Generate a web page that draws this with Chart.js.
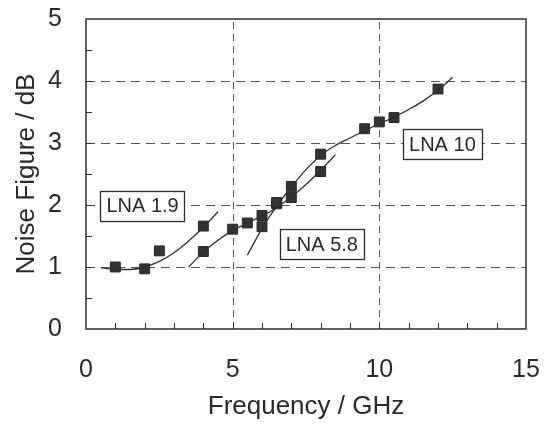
<!DOCTYPE html>
<html>
<head>
<meta charset="utf-8">
<script src="https://cdn.jsdelivr.net/npm/chart.js@4/dist/chart.umd.min.js"></script>
<style>
  html, body { margin: 0; padding: 0; background: #ffffff; }
  #wrap { width: 549px; height: 428px; }
</style>
</head>
<body>
<div id="wrap"><canvas id="c" width="549" height="428"></canvas></div>
<script>
// Measured points
const freq19 = [1, 2, 2.5, 4];
const nf19 = [1.00, 0.97, 1.26, 1.66];
const freq58 = [4, 5, 5.5, 6, 6.5, 7, 8];
const nf58 = [1.25, 1.61, 1.71, 1.83, 2.04, 2.12, 2.54];
const freq10 = [6, 6.5, 7, 8, 9.5, 10, 10.5, 12];
const nf10 = [1.65, 2.02, 2.30, 2.82, 3.23, 3.34, 3.41, 3.87];

// Fitted curves
const fit19x = [0.5, 1, 1.5, 2, 2.5, 3, 3.5, 4, 4.5];
const fit19y = [0.99, 0.96, 0.96, 1.0, 1.09, 1.23, 1.42, 1.64, 1.89];
const fit58x = [3.5, 4, 4.5, 5, 5.5, 6, 6.5, 7, 7.5, 8, 8.5];
const fit58y = [1.00, 1.24, 1.43, 1.59, 1.71, 1.82, 1.96, 2.13, 2.33, 2.56, 2.81];
const fit10x = [5.5, 6, 6.5, 7, 7.5, 8, 8.5, 9, 9.5, 10, 10.5, 11, 11.5, 12, 12.5];
const fit10y = [1.19, 1.62, 1.98, 2.29, 2.57, 2.80, 2.96, 3.08, 3.20, 3.31, 3.42, 3.54, 3.68, 3.85, 4.06];

// Axis ticks
const xTicks = [0, 5, 10, 15];
const yTicks = [0, 1, 2, 3, 4, 5];
const xMinor = [1, 2, 3, 4, 5, 6, 7, 8, 9, 10, 11, 12, 13, 14];
const yMinor = [0.5, 1, 1.5, 2, 2.5, 3, 3.5, 4, 4.5];
const xGrid = [5, 10];
const yGrid = [1, 2, 3, 4];

// Series labels
const seriesLabels = ['LNA 1.9', 'LNA 5.8', 'LNA 10'];
const labelX = [1.93, 8.04, 12.15];
const labelY = [1.99, 1.37, 2.98];

const INK = '#2e2e2e';
const zip = (xs, ys) => xs.map((x, i) => ({x: x, y: ys[i]}));

const curve = (xs, ys, name) => ({
  label: name + ' fit', data: zip(xs, ys), showLine: true, pointRadius: 0,
  borderColor: INK, borderWidth: 1.3, tension: 0.4, cubicInterpolationMode: 'monotone', fill: false
});
const pts = (xs, ys, name) => ({
  label: name, data: zip(xs, ys), showLine: false, pointStyle: 'rect', pointRadius: 7,
  backgroundColor: '#333333', borderColor: '#262626', borderWidth: 1
});

const framePlugin = {
  id: 'frame',
  beforeDatasetsDraw(chart) {
    const {ctx, chartArea: a, scales: {x, y}} = chart;
    ctx.save();
    ctx.strokeStyle = '#555';
    ctx.lineWidth = 1;
    ctx.setLineDash([9, 6]);
    yGrid.forEach(v => {
      const py = Math.round(y.getPixelForValue(v)) + 0.5;
      ctx.beginPath(); ctx.moveTo(a.left, py); ctx.lineTo(a.right, py); ctx.stroke();
    });
    ctx.setLineDash([7, 5]);
    xGrid.forEach(v => {
      const px = Math.round(x.getPixelForValue(v)) + 0.5;
      ctx.beginPath(); ctx.moveTo(px, a.bottom); ctx.lineTo(px, a.top); ctx.stroke();
    });
    ctx.setLineDash([]);
    ctx.strokeStyle = INK;
    ctx.lineWidth = 1;
    xMinor.forEach(v => {
      const px = Math.round(x.getPixelForValue(v)) + 0.5;
      ctx.beginPath(); ctx.moveTo(px, a.bottom); ctx.lineTo(px, a.bottom - 6); ctx.stroke();
    });
    yMinor.forEach(v => {
      const py = Math.round(y.getPixelForValue(v)) + 0.5;
      ctx.beginPath(); ctx.moveTo(a.left, py); ctx.lineTo(a.left + 6, py); ctx.stroke();
    });
    ctx.lineWidth = 1.5;
    ctx.strokeRect(a.left, a.top, a.right - a.left, a.bottom - a.top);
    ctx.restore();
  },
  afterDatasetsDraw(chart) {
    const {ctx, scales: {x, y}} = chart;
    ctx.save();
    ctx.font = '20px "Liberation Sans", Arial, sans-serif';
    ctx.textAlign = 'center';
    ctx.textBaseline = 'middle';
    seriesLabels.forEach((t, i) => {
      const cx = x.getPixelForValue(labelX[i]);
      const cy = y.getPixelForValue(labelY[i]);
      const w = ctx.measureText(t).width + 12;
      const h = 30;
      ctx.fillStyle = '#ffffff';
      ctx.fillRect(cx - w / 2, cy - h / 2, w, h);
      ctx.strokeStyle = INK;
      ctx.lineWidth = 1.3;
      ctx.strokeRect(Math.round(cx - w / 2) + 0.5, Math.round(cy - h / 2) + 0.5, Math.round(w), h);
      ctx.fillStyle = '#2a2a2a';
      ctx.fillText(t, cx, cy + 1);
    });
    ctx.restore();
  }
};

new Chart(document.getElementById('c'), {
  type: 'scatter',
  data: {
    datasets: [
      curve(fit19x, fit19y, seriesLabels[0]),
      curve(fit58x, fit58y, seriesLabels[1]),
      curve(fit10x, fit10y, seriesLabels[2]),
      pts(freq19, nf19, seriesLabels[0]),
      pts(freq58, nf58, seriesLabels[1]),
      pts(freq10, nf10, seriesLabels[2])
    ]
  },
  options: {
    responsive: false,
    animation: false,
    devicePixelRatio: 1,
    layout: { padding: { top: 19, right: 23, left: 0, bottom: 0 } },
    plugins: { legend: { display: false }, tooltip: { enabled: false } },
    scales: {
      x: {
        type: 'linear', min: 0, max: 15,
        afterBuildTicks: s => { s.ticks = xTicks.map(v => ({value: v})); },
        afterFit: s => { s.height = 99; s.paddingLeft = 0; s.paddingRight = 0; },
        grid: { display: false, drawTicks: false },
        border: { display: false },
        ticks: { padding: 26, color: '#2a2a2a', font: { family: '"Liberation Sans", Arial, sans-serif', size: 25 } },
        title: { display: true, text: 'Frequency / GHz', color: '#2a2a2a', padding: { top: 0, bottom: 6 },
                 font: { family: '"Liberation Sans", Arial, sans-serif', size: 26 } }
      },
      y: {
        type: 'linear', min: 0, max: 5,
        afterBuildTicks: s => { s.ticks = yTicks.map(v => ({value: v})); },
        afterFit: s => { s.width = 86; s.paddingTop = 0; s.paddingBottom = 0; },
        grid: { display: false, drawTicks: false },
        border: { display: false },
        ticks: { padding: 24, color: '#2a2a2a', font: { family: '"Liberation Sans", Arial, sans-serif', size: 25 } },
        title: { display: true, text: 'Noise Figure / dB', color: '#2a2a2a', padding: { top: 11, bottom: 0 },
                 font: { family: '"Liberation Sans", Arial, sans-serif', size: 26 } }
      }
    }
  },
  plugins: [framePlugin]
});
</script>
</body>
</html>
